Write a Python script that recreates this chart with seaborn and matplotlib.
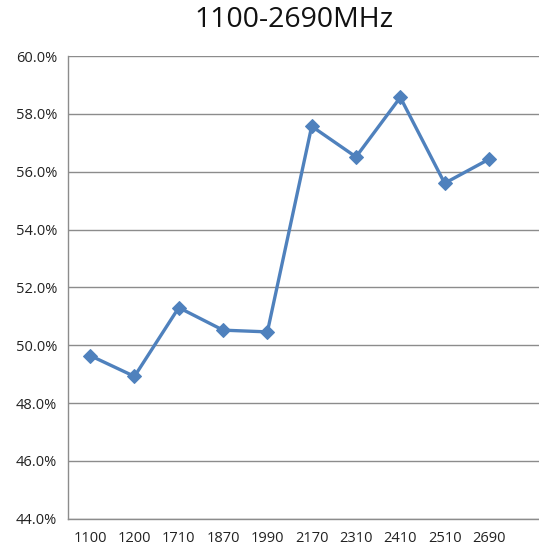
import numpy as np
import pandas as pd
import matplotlib
matplotlib.use("Agg")
import matplotlib.pyplot as plt
from matplotlib.ticker import FuncFormatter, FixedLocator
import seaborn as sns

freqs = ["1100", "1200", "1710", "1870", "1990", "2170", "2310", "2410", "2510", "2690"]
efficiency = [49.64, 48.92, 51.30, 50.52, 50.46, 57.57, 56.51, 58.57, 55.60, 56.43]

sns.set_style("white")
plt.rcParams['font.family'] = ['Open Sans', 'DejaVu Sans']

df = pd.DataFrame({"freq": freqs, "eff": efficiency})
df["pos"] = np.arange(len(df))

fig = plt.figure(figsize=(5.39, 5.54), dpi=100)
ax = fig.add_axes([68 / 539, 1 - 518.7 / 554, 1 - 68 / 539, (518.7 - 56) / 554])

sns.lineplot(data=df, x="pos", y="eff", ax=ax, color="#4F81BD", linewidth=2.4,
             marker="D", markersize=7, markeredgecolor="#4F81BD")

ax.set_ylim(44, 60)
ax.set_xlim(-0.5, 10.13)
ax.yaxis.set_major_locator(FixedLocator(np.arange(44, 60.1, 2)))
ax.yaxis.set_major_formatter(FuncFormatter(lambda v, p: f"{v:.1f}%"))
ax.grid(axis="y", color="#8c8c8c", linewidth=1)
ax.set_axisbelow(True)

# category boundaries get tick marks, labels sit between them
ax.xaxis.set_major_locator(FixedLocator(np.arange(-0.5, 10.6, 1)))
ax.xaxis.set_major_formatter(FuncFormatter(lambda v, p: ""))
ax.xaxis.set_minor_locator(FixedLocator(df["pos"]))
ax.set_xticklabels(freqs, minor=True)
ax.tick_params(axis="x", which="major", length=5, width=1, color="#8c8c8c", direction="out")
ax.tick_params(axis="x", which="minor", length=0, labelsize=10.5, pad=9, labelcolor="#222222")
ax.tick_params(axis="y", length=5, width=1, color="#8c8c8c", direction="out",
               labelsize=10.5, pad=3, labelcolor="#222222")

for side in ["top", "right"]:
    ax.spines[side].set_visible(False)
for side in ["left", "bottom"]:
    ax.spines[side].set_color("#8c8c8c")
    ax.spines[side].set_linewidth(1)

ax.set_xlabel("")
ax.set_ylabel("")

fig.text(294 / 539, 1 - 20 / 554, "1100-2690MHz", ha="center", va="center", fontsize=20.5, color="#111111")

fig.savefig("out.png", dpi=100)
